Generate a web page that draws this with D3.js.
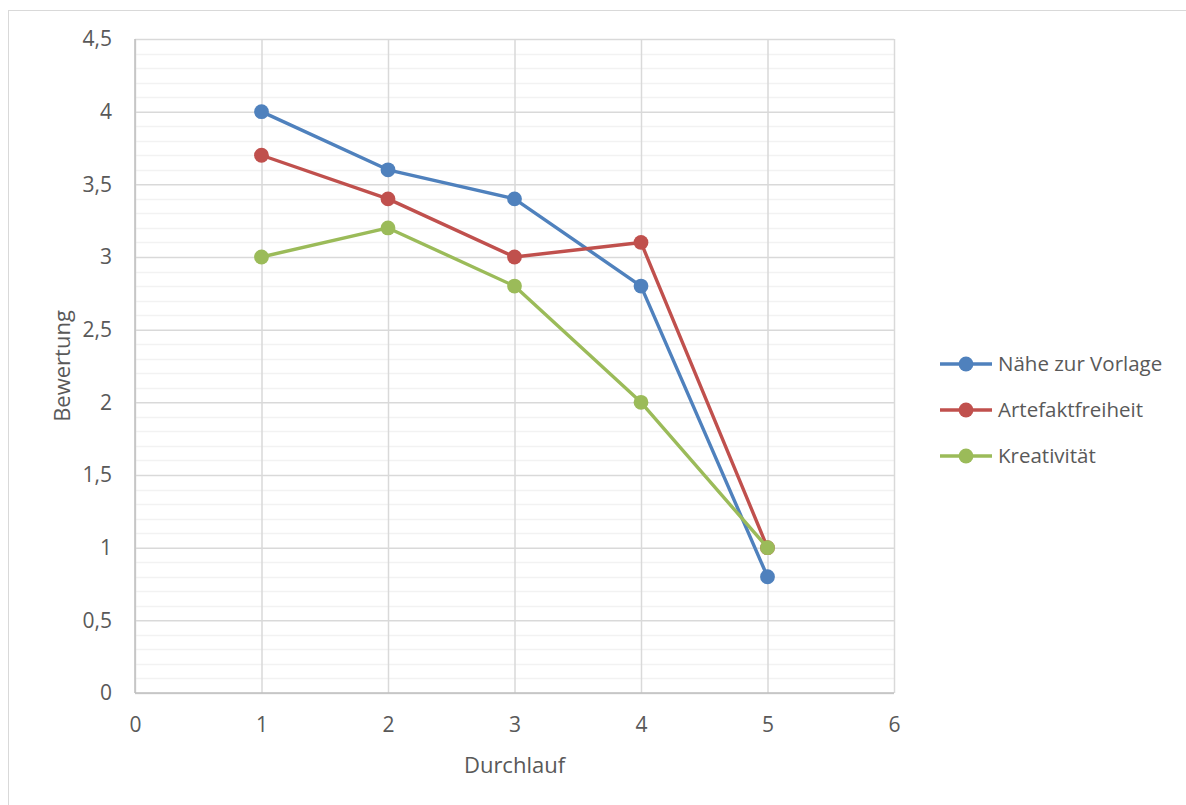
<!DOCTYPE html>
<html>
<head>
<meta charset="utf-8">
<script src="https://cdn.jsdelivr.net/npm/d3@7"></script>
<style>
  html, body { margin: 0; padding: 0; background: #fff; }
  svg { display: block; }
  text { font-family: "Open Sans", "Noto Sans", sans-serif; fill: #595959; }
</style>
</head>
<body>
<svg id="chart" width="1186" height="805"></svg>
<script>
// Runs (Durchlauf) and ratings (Bewertung) per criterion
const runs = [1, 2, 3, 4, 5];
const naeheZurVorlage = [4.0, 3.6, 3.4, 2.8, 0.8];
const artefaktfreiheit = [3.7, 3.4, 3.0, 3.1, 1.0];
const kreativitaet = [3.0, 3.2, 2.8, 2.0, 1.0];
const seriesNames = ["Nähe zur Vorlage", "Artefaktfreiheit", "Kreativität"];
const seriesColors = ["#4f81bd", "#c0504d", "#9bbb59"];
const xTicks = [0, 1, 2, 3, 4, 5, 6];
const yTicks = [0, 0.5, 1, 1.5, 2, 2.5, 3, 3.5, 4, 4.5];

const series = [naeheZurVorlage, artefaktfreiheit, kreativitaet].map((vals, i) => ({
  name: seriesNames[i],
  color: seriesColors[i],
  points: runs.map((r, j) => ({ x: r, y: vals[j] }))
}));

const svg = d3.select("#chart");
const plot = { left: 135, right: 894, top: 39, bottom: 693 };
const FONT = '"Open Sans", "Noto Sans", sans-serif';

// outer chart frame
svg.append("rect")
  .attr("x", 8.5).attr("y", 10.5)
  .attr("width", 1200).attr("height", 820)
  .attr("fill", "#fff").attr("stroke", "#d9d9d9").attr("stroke-width", 1);

const x = d3.scaleLinear().domain([0, 6]).range([plot.left, plot.right]);
const y = d3.scaleLinear().domain([0, 4.5]).range([plot.bottom, plot.top]);

const fmt = v => String(v).replace(".", ",");

// minor horizontal gridlines every 0.1
const minor = d3.range(1, 45).map(i => i / 10).filter(v => Math.abs(v * 2 - Math.round(v * 2)) > 1e-6);
svg.append("g")
  .selectAll("line").data(minor).join("line")
  .attr("x1", plot.left).attr("x2", plot.right)
  .attr("y1", d => Math.round(y(d)) + 0.5).attr("y2", d => Math.round(y(d)) + 0.5)
  .attr("stroke", "#f2f2f2").attr("stroke-width", 1.5);

// major gridlines via axes
const yGrid = d3.axisLeft(y).tickValues(yTicks).tickSize(-(plot.right - plot.left)).tickFormat("");
svg.append("g").attr("transform", `translate(${plot.left},0)`).call(yGrid)
  .call(g => g.select(".domain").remove())
  .call(g => g.selectAll("line").attr("stroke", "#d9d9d9").attr("stroke-width", 1.5));

const xGrid = d3.axisBottom(x).tickValues(xTicks).tickSize(-(plot.bottom - plot.top)).tickFormat("");
svg.append("g").attr("transform", `translate(0,${plot.bottom})`).call(xGrid)
  .call(g => g.select(".domain").remove())
  .call(g => g.selectAll("line").attr("stroke", "#d9d9d9").attr("stroke-width", 1.5));

// axis lines
svg.append("line").attr("x1", plot.left).attr("x2", plot.right)
  .attr("y1", plot.bottom).attr("y2", plot.bottom)
  .attr("stroke", "#bfbfbf").attr("stroke-width", 1.5);
svg.append("line").attr("x1", plot.left).attr("x2", plot.left)
  .attr("y1", plot.top).attr("y2", plot.bottom)
  .attr("stroke", "#bfbfbf").attr("stroke-width", 1.5);

// tick labels
const yAxis = d3.axisLeft(y).tickValues(yTicks).tickSize(0).tickPadding(23).tickFormat(fmt);
svg.append("g").attr("transform", `translate(${plot.left},0)`).call(yAxis)
  .attr("font-size", 21).attr("font-family", FONT)
  .call(g => g.select(".domain").remove())
  .call(g => g.selectAll("text").attr("fill", "#595959"));

const xAxis = d3.axisBottom(x).tickValues(xTicks).tickSize(0).tickPadding(24).tickFormat(fmt);
svg.append("g").attr("transform", `translate(0,${plot.bottom})`).call(xAxis)
  .attr("font-size", 21).attr("font-family", FONT)
  .call(g => g.select(".domain").remove())
  .call(g => g.selectAll("text").attr("fill", "#595959"));

// axis titles
svg.append("text").attr("x", (plot.left + plot.right) / 2).attr("y", 765).attr("dy", "0.35em")
  .attr("text-anchor", "middle").attr("font-size", 22).text("Durchlauf");
svg.append("text").attr("transform", `translate(62,${(plot.top + plot.bottom) / 2}) rotate(-90)`)
  .attr("dy", "0.35em")
  .attr("text-anchor", "middle").attr("font-size", 22).text("Bewertung");

// series lines and markers
const line = d3.line().x(d => x(d.x)).y(d => y(d.y));
const sg = svg.append("g").selectAll("g").data(series).join("g");
sg.append("path")
  .attr("d", d => line(d.points))
  .attr("fill", "none").attr("stroke", d => d.color)
  .attr("stroke-width", 3.4).attr("stroke-linejoin", "round").attr("stroke-linecap", "round");
sg.selectAll("circle").data(d => d.points.map(p => ({ ...p, color: d.color }))).join("circle")
  .attr("cx", d => x(d.x)).attr("cy", d => y(d.y)).attr("r", 7.4)
  .attr("fill", d => d.color);

// legend
const lg = svg.append("g").selectAll("g").data(series).join("g")
  .attr("transform", (d, i) => `translate(940,${364 + i * 46})`);
lg.append("line").attr("x1", 0).attr("x2", 52).attr("y1", 0).attr("y2", 0)
  .attr("stroke", d => d.color).attr("stroke-width", 3.4);
lg.append("circle").attr("cx", 26).attr("cy", 0).attr("r", 7.4).attr("fill", d => d.color);
lg.append("text").attr("x", 58).attr("y", 0).attr("dy", "0.35em")
  .attr("font-size", 20.5).text(d => d.name);
</script>
</body>
</html>
